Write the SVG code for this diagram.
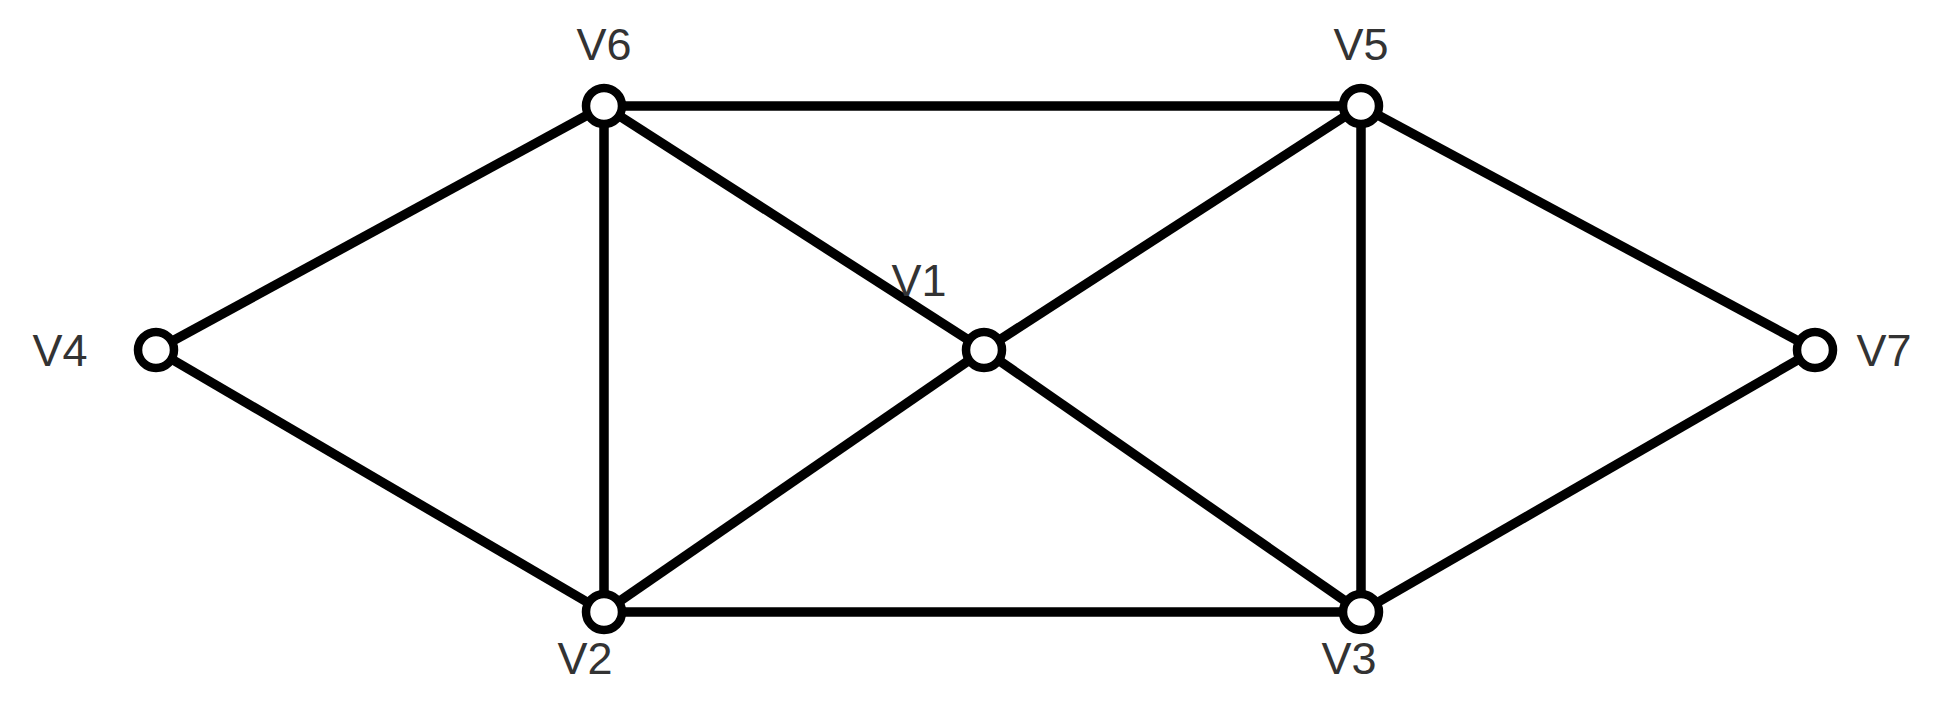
<svg xmlns="http://www.w3.org/2000/svg" width="1953" height="715" viewBox="0 0 1953 715">
<style>
.e{stroke:#000;stroke-width:9.5;fill:none}
.n{fill:#fff;stroke:#000;stroke-width:8.5}
.t{font-family:"Liberation Sans",Arial,sans-serif;font-size:45px;fill:#333;text-anchor:middle;dominant-baseline:central}
</style>
<rect width="1953" height="715" fill="#fff"/>
<g id="edges">
<line class="e" x1="156" y1="350" x2="604" y2="106"/>
<line class="e" x1="156" y1="350" x2="604" y2="612"/>
<line class="e" x1="604" y1="106" x2="1361" y2="106"/>
<line class="e" x1="604" y1="106" x2="604" y2="612"/>
<line class="e" x1="604" y1="106" x2="984" y2="350"/>
<line class="e" x1="604" y1="612" x2="984" y2="350"/>
<line class="e" x1="604" y1="612" x2="1361" y2="612"/>
<line class="e" x1="984" y1="350" x2="1361" y2="106"/>
<line class="e" x1="984" y1="350" x2="1361" y2="612"/>
<line class="e" x1="1361" y1="106" x2="1361" y2="612"/>
<line class="e" x1="1361" y1="106" x2="1815" y2="350"/>
<line class="e" x1="1361" y1="612" x2="1815" y2="350"/>
</g>
<g id="V4"><circle class="n" cx="156" cy="350" r="18"/><text class="t" x="60" y="350">V4</text></g>
<g id="V6"><circle class="n" cx="604" cy="106" r="18"/><text class="t" x="604" y="44">V6</text></g>
<g id="V5"><circle class="n" cx="1361" cy="106" r="18"/><text class="t" x="1361" y="44">V5</text></g>
<g id="V1"><circle class="n" cx="984" cy="350" r="18"/><text class="t" x="919" y="280">V1</text></g>
<g id="V7"><circle class="n" cx="1815" cy="350" r="18"/><text class="t" x="1884" y="350">V7</text></g>
<g id="V2"><circle class="n" cx="604" cy="612" r="18"/><text class="t" x="585" y="658">V2</text></g>
<g id="V3"><circle class="n" cx="1361" cy="612" r="18"/><text class="t" x="1349" y="658">V3</text></g>
</svg>
